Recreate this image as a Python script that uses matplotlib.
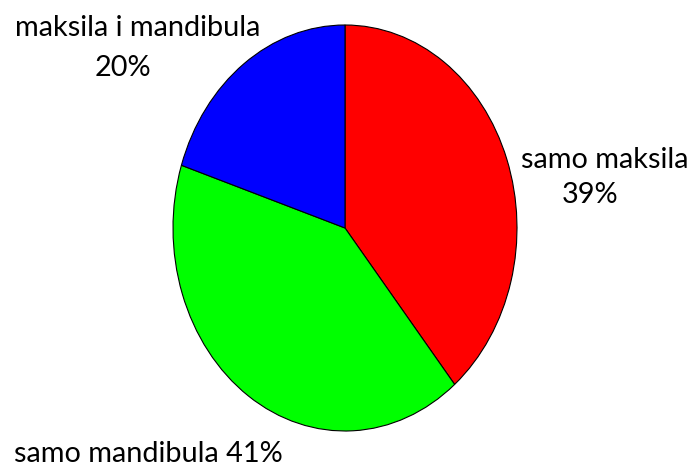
import matplotlib.pyplot as plt

labels = ['samo maksila', 'samo mandibula', 'maksila i mandibula']
shares = [39, 41, 20]
colors = ['#ff0000', '#00ff00', '#0000ff']

W, H = 694, 466
fig = plt.figure(figsize=(W / 100, H / 100), dpi=100)
# pie ellipse spans x 173..517, y 25..431 (pixels)
ax = fig.add_axes([173 / W, (H - 431) / H, 344 / W, 406 / H])
ax.pie(shares, colors=colors, startangle=90, counterclock=False,
       wedgeprops=dict(edgecolor='black', linewidth=0.8))
ax.set_aspect('auto')
ax.set_xlim(-1, 1)
ax.set_ylim(-1, 1)

font = dict(family='Lato', fontsize=20.8, color='black')
fig.text(605 / W, 1 - 160 / H, labels[0], ha='center', va='center', **font)
fig.text(590 / W, 1 - 195 / H, f'{shares[0]}%', ha='center', va='center', **font)
fig.text(14 / W, 1 - 454 / H, f'{labels[1]} {shares[1]}%', ha='left', va='center', **font)
fig.text(138 / W, 1 - 28 / H, labels[2], ha='center', va='center', **font)
fig.text(123 / W, 1 - 68 / H, f'{shares[2]}%', ha='center', va='center', **font)

fig.savefig('out.png', dpi=100)
